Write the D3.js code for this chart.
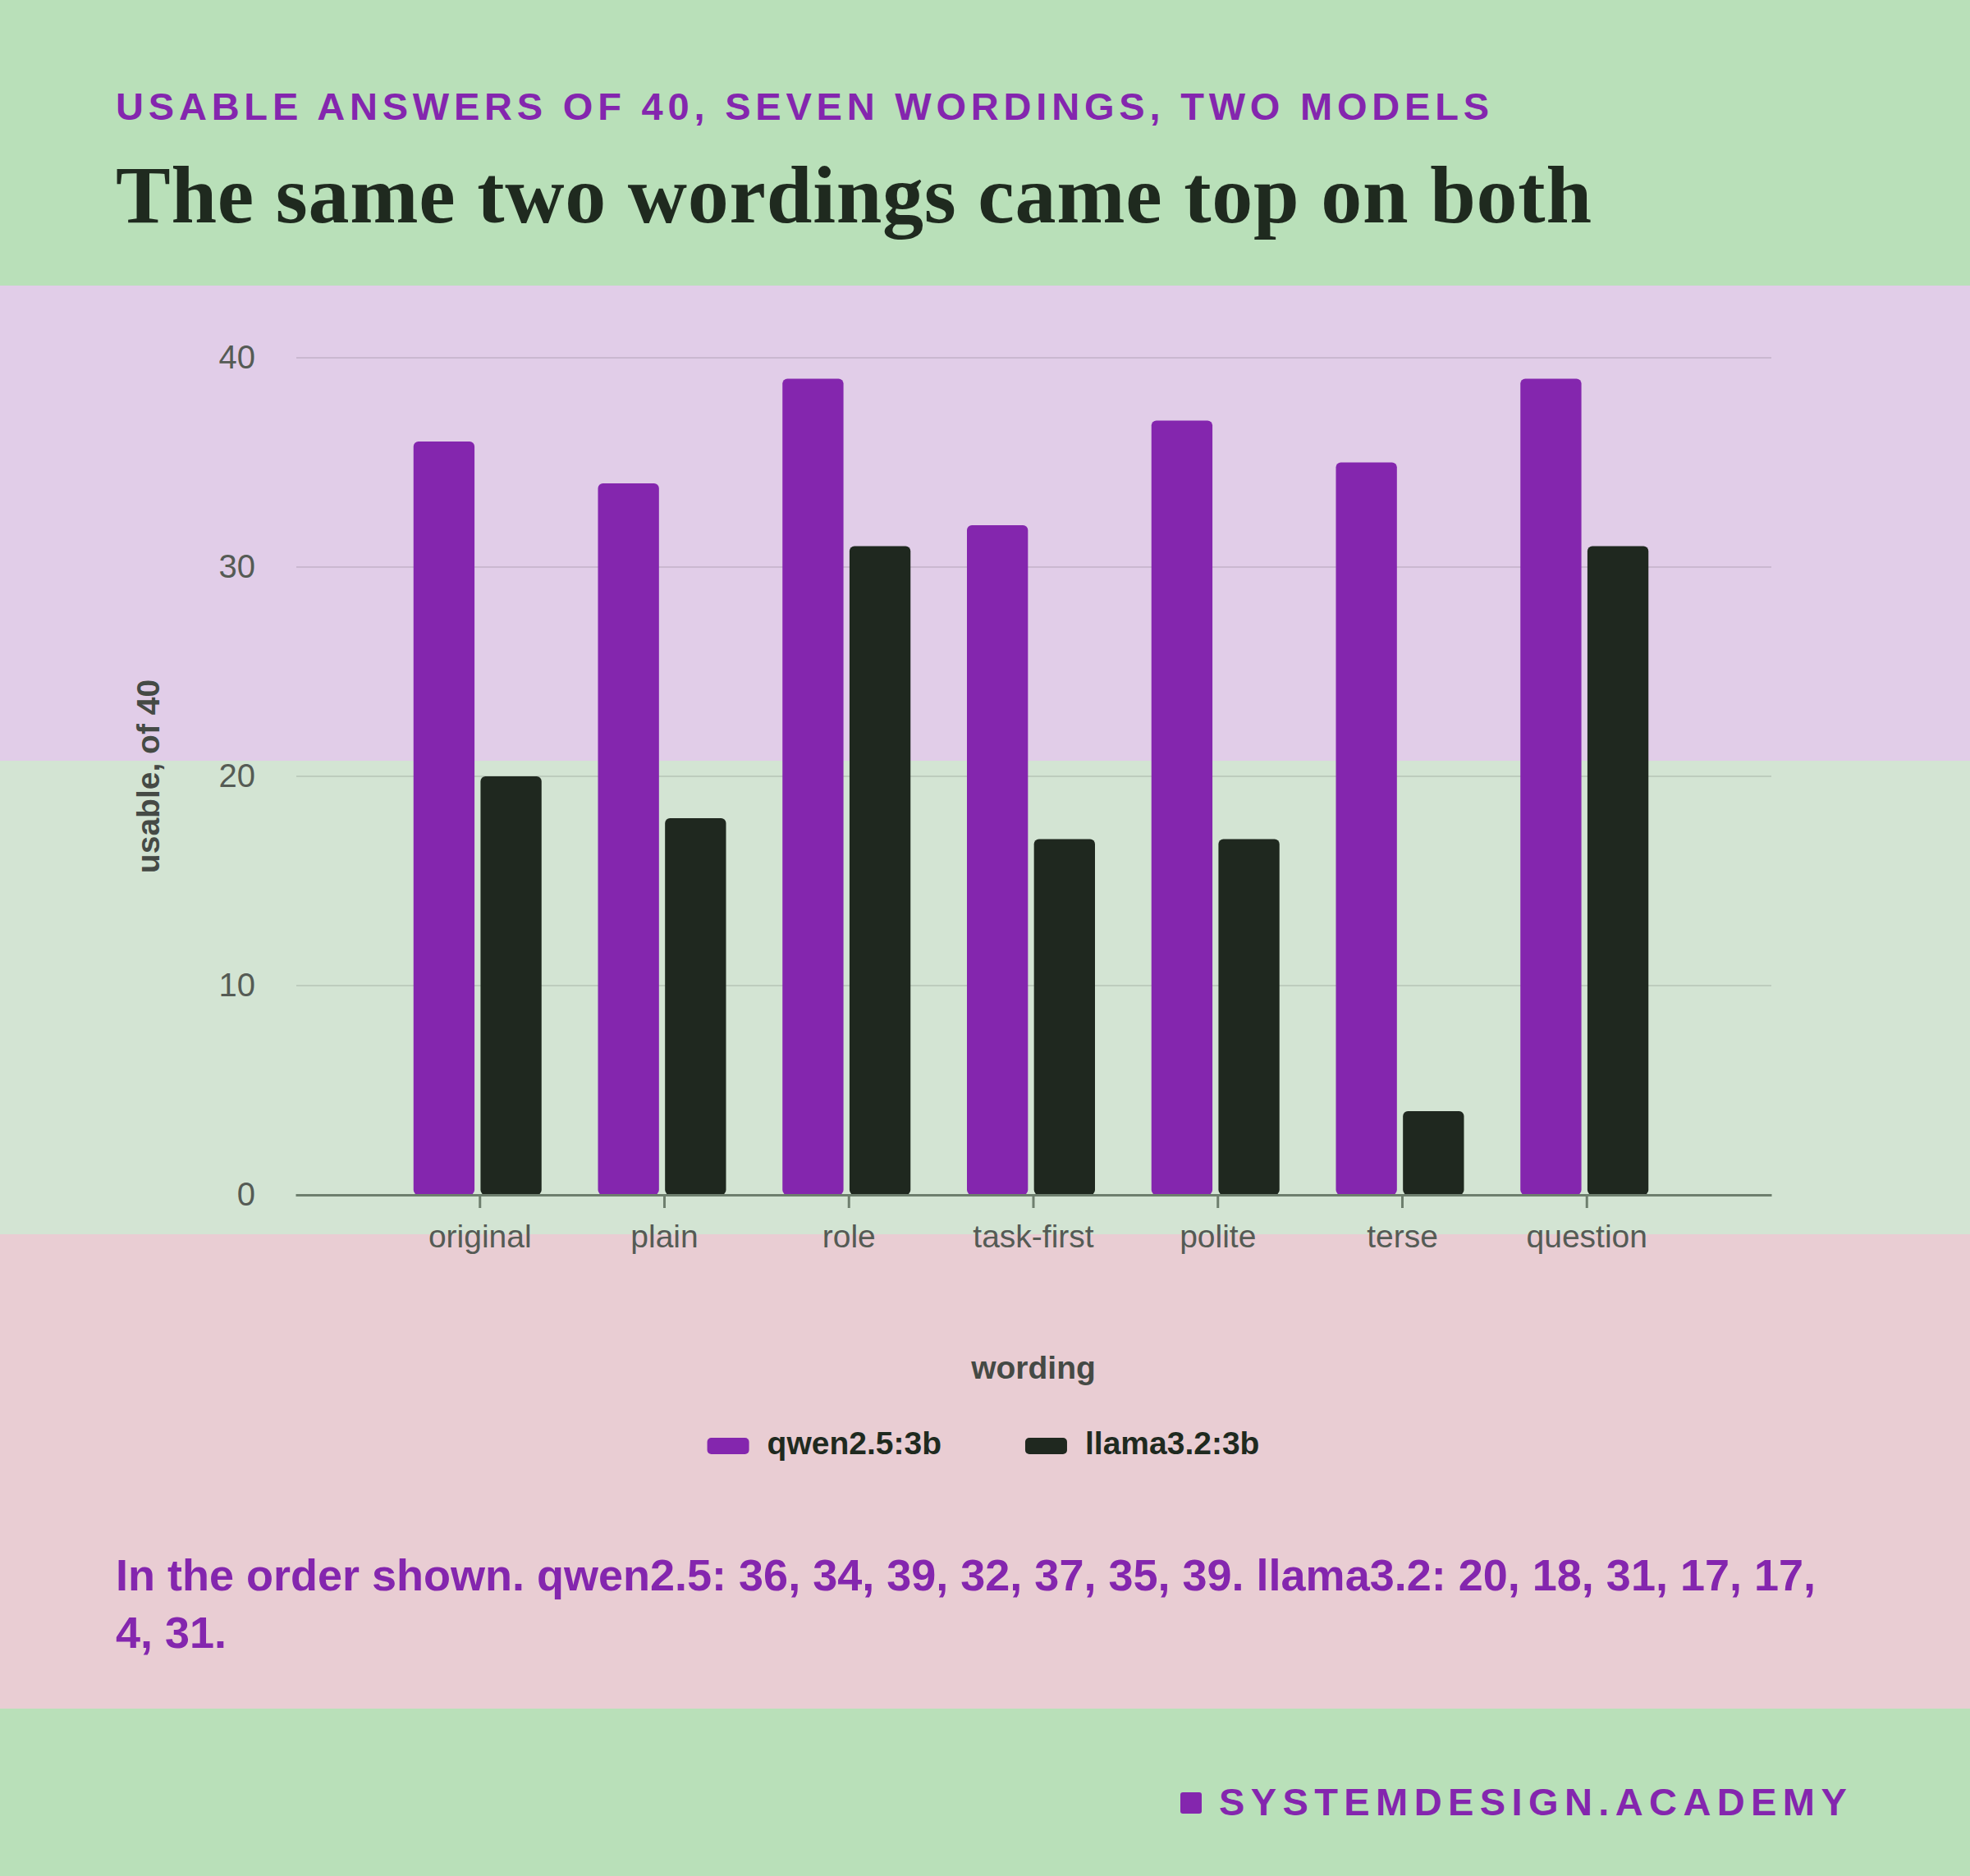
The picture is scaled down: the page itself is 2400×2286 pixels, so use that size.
<!DOCTYPE html>
<html>
<head>
<meta charset="utf-8">
<script src="https://cdn.jsdelivr.net/npm/d3@7"></script>
<style>
  html, body { margin: 0; padding: 0; background: #b9e0b9; }
  svg { display: block; }
</style>
</head>
<body>
<div id="chart"></div>
<script>
// data
const wordings = ["original", "plain", "role", "task-first", "polite", "terse", "question"];
const models = ["qwen2.5:3b", "llama3.2:3b"];
const qwen = [36, 34, 39, 32, 37, 35, 39];
const llama = [20, 18, 31, 17, 17, 4, 31];
const yTicks = [0, 10, 20, 30, 40];

const width = 2400;
const height = 2286;
const purple = "#8426ae";
const dark = "#1f281f";
const sans = "'Liberation Sans', Arial, Helvetica, sans-serif";

let svg = d3
  .select("#chart")
  .append("svg")
  .attr("width", width)
  .attr("height", height);

// background bands
let bands = [
  [0, 348, "#b9e0b9"],
  [348, 927, "#e1cde8"],
  [927, 1504, "#d3e4d3"],
  [1504, 2082, "#e9cdd3"],
  [2082, height, "#b9e0b9"],
];
svg
  .selectAll("rect.band")
  .data(bands)
  .enter()
  .append("rect")
  .attr("class", "band")
  .attr("x", 0)
  .attr("y", (d) => d[0])
  .attr("width", width)
  .attr("height", (d) => d[1] - d[0])
  .attr("fill", (d) => d[2]);

// header
svg
  .append("text")
  .attr("x", 141)
  .attr("y", 146)
  .attr("fill", purple)
  .style("font-family", sans)
  .style("font-weight", 700)
  .style("font-size", "47px")
  .style("letter-spacing", "5.8px")
  .text("USABLE ANSWERS OF 40, SEVEN WORDINGS, TWO MODELS");

let title = svg
  .append("text")
  .attr("x", 141)
  .attr("y", 271)
  .attr("fill", "#1f2a1f")
  .style("font-family", "'Liberation Serif', 'DejaVu Serif', serif")
  .style("font-weight", 700)
  .style("font-size", "100px")
  .text("The same two wordings came top on both");
// stretch the title slightly to the width it has in the reference
let tw = title.node().getComputedTextLength();
let tn = title.text().length;
title.style("letter-spacing", (1798 - tw) / (tn - 1) + "px");

// scales
let x = d3
  .scaleBand()
  .domain(wordings)
  .range([360, 2158])
  .paddingInner(0)
  .paddingOuter(0.5);

let x1 = d3.scaleBand().domain(models).range([-81, 75]).paddingInner(0.09);

let y = d3.scaleLinear().domain([0, 40]).range([1456, 436]);

let color = d3.scaleOrdinal().domain(models).range([purple, dark]);

// gridlines
svg
  .append("g")
  .selectAll("line")
  .data(yTicks)
  .enter()
  .append("line")
  .attr("x1", 361)
  .attr("x2", 2158)
  .attr("y1", (d) => y(d))
  .attr("y2", (d) => y(d))
  .attr("stroke", "rgba(0,0,0,0.1)")
  .attr("stroke-width", 2);

// y axis
let yAxis = svg
  .append("g")
  .attr("transform", "translate(360,0)")
  .call(d3.axisLeft(y).tickValues(yTicks).tickSize(0).tickPadding(49));
yAxis.select(".domain").remove();
yAxis
  .selectAll("text")
  .attr("fill", "#555b55")
  .style("font-family", sans)
  .style("font-size", "40px");

// bars
let rows = wordings.map((w, i) => ({ wording: w, values: [qwen[i], llama[i]] }));

let groups = svg
  .selectAll("g.group")
  .data(rows)
  .enter()
  .append("g")
  .attr("class", "group")
  .attr("transform", (d) => "translate(" + (x(d.wording) + x.bandwidth() / 2) + ",0)");

groups
  .selectAll("rect")
  .data((d) => models.map((m, j) => ({ model: m, value: d.values[j] })))
  .enter()
  .append("rect")
  .attr("x", (d) => x1(d.model))
  .attr("y", (d) => y(d.value))
  .attr("width", x1.bandwidth())
  .attr("height", (d) => y(0) - y(d.value))
  .attr("rx", 6)
  .attr("ry", 6)
  .attr("fill", (d) => color(d.model));

// x axis
let xAxis = svg
  .append("g")
  .attr("transform", "translate(0,1456)")
  .call(d3.axisBottom(x).tickSize(16).tickSizeOuter(0).tickPadding(20));
xAxis.select(".domain").attr("stroke", "#6e7f6e").attr("stroke-width", 3);
xAxis.selectAll(".tick line").attr("stroke", "#6e7f6e").attr("stroke-width", 3);
xAxis
  .selectAll("text")
  .attr("fill", "#555b55")
  .style("font-family", sans)
  .style("font-size", "39px");

// axis titles
svg
  .append("text")
  .attr("transform", "translate(194,946) rotate(-90)")
  .attr("text-anchor", "middle")
  .attr("fill", "#454a45")
  .style("font-family", sans)
  .style("font-weight", 700)
  .style("font-size", "39px")
  .text("usable, of 40");

svg
  .append("text")
  .attr("x", (360 + 2158) / 2)
  .attr("y", 1680)
  .attr("text-anchor", "middle")
  .attr("fill", "#454a45")
  .style("font-family", sans)
  .style("font-weight", 700)
  .style("font-size", "39px")
  .text("wording");

// legend, centred on the page
let legend = svg.append("g");
let items = legend
  .selectAll("g")
  .data(models)
  .enter()
  .append("g");
items
  .append("rect")
  .attr("y", 1752)
  .attr("width", 51)
  .attr("height", 20)
  .attr("rx", 5)
  .attr("fill", (d) => color(d));
items
  .append("text")
  .attr("x", 73)
  .attr("y", 1772)
  .attr("fill", "#1f2a1f")
  .style("font-family", sans)
  .style("font-weight", 700)
  .style("font-size", "39px")
  .text((d) => d);

let pos = 0;
items.each(function () {
  let w = 73 + d3.select(this).select("text").node().getComputedTextLength();
  d3.select(this).attr("transform", "translate(" + pos + ",0)");
  pos += w + 102;
});
let legendW = pos - 102;
legend.attr("transform", "translate(" + (1198 - legendW / 2) + ",0)");

// caption, built from the data and wrapped
let caption =
  "In the order shown. qwen2.5: " + qwen.join(", ") +
  ". llama3.2: " + llama.join(", ") + ".";
let capText = svg
  .append("text")
  .attr("x", 141)
  .attr("y", 1938)
  .attr("fill", purple)
  .style("font-family", sans)
  .style("font-weight", 700)
  .style("font-size", "54px");

let words = caption.split(" ");
let line = [];
let tspan = capText.append("tspan").attr("x", 141).attr("dy", 0);
words.forEach((word) => {
  line.push(word);
  tspan.text(line.join(" "));
  if (tspan.node().getComputedTextLength() > 2118 && line.length > 1) {
    line.pop();
    tspan.text(line.join(" "));
    line = [word];
    tspan = capText.append("tspan").attr("x", 141).attr("dy", 70).text(word);
  }
});

// footer mark
svg
  .append("rect")
  .attr("x", 1438)
  .attr("y", 2184)
  .attr("width", 26)
  .attr("height", 26)
  .attr("rx", 3)
  .attr("fill", purple);
svg
  .append("text")
  .attr("x", 1485)
  .attr("y", 2212)
  .attr("fill", purple)
  .style("font-family", sans)
  .style("font-weight", 700)
  .style("font-size", "47px")
  .style("letter-spacing", "7.4px")
  .text("SYSTEMDESIGN.ACADEMY");
</script>
</body>
</html>
